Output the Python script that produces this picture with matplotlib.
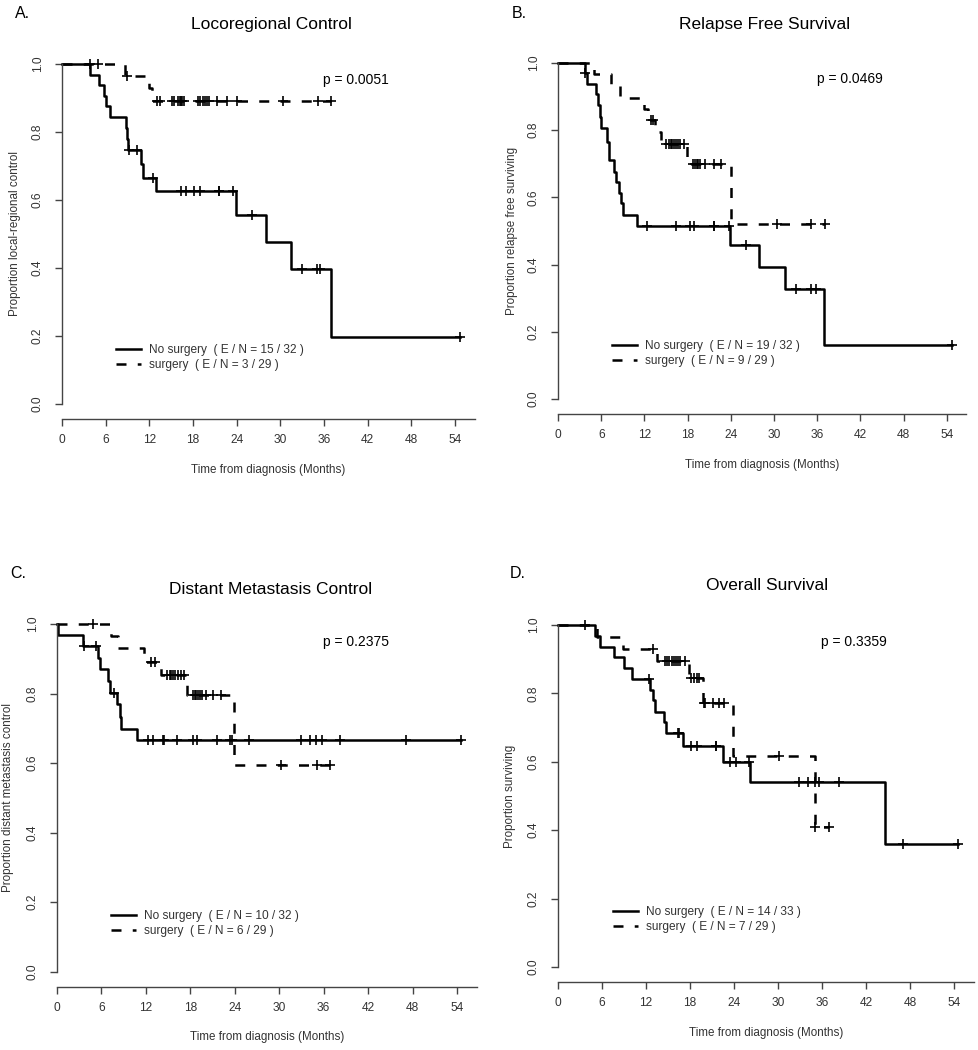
import matplotlib
matplotlib.use('Agg')
import matplotlib.pyplot as plt
import numpy as np

plt.rcParams['font.family'] = ['Liberation Sans', 'DejaVu Sans']

# ---------------- data ----------------
x_ticks = [0, 6, 12, 18, 24, 30, 36, 42, 48, 54]
y_ticks = [0.0, 0.2, 0.4, 0.6, 0.8, 1.0]
y_tick_labels = ['0.0', '0.2', '0.4', '0.6', '0.8', '1.0']

panel_letters = ['A.', 'B.', 'C.', 'D.']
titles = ['Locoregional Control', 'Relapse Free Survival',
          'Distant Metastasis Control', 'Overall Survival']
y_labels = ['Proportion local-regional control', 'Proportion relapse free surviving',
            'Proportion distant metastasis control', 'Proportion surviving']
x_label = 'Time from diagnosis (Months)'
p_values = ['p = 0.0051', 'p = 0.0469', 'p = 0.2375', 'p = 0.3359']
legend_nosurg = ['No surgery  ( E / N = 15 / 32 )', 'No surgery  ( E / N = 19 / 32 )',
                 'No surgery  ( E / N = 10 / 32 )', 'No surgery  ( E / N = 14 / 33 )']
legend_surg = ['surgery  ( E / N = 3 / 29 )', 'surgery  ( E / N = 9 / 29 )',
               'surgery  ( E / N = 6 / 29 )', 'surgery  ( E / N = 7 / 29 )']

# Panel A
A_nosurg_event_t = [3.9, 5.1, 5.8, 6.0, 6.6, 8.75, 8.9, 9.0, 10.85, 11.17, 12.87, 23.9, 28.0, 31.5, 36.9]
A_nosurg_surv = [0.969, 0.938, 0.906, 0.875, 0.844, 0.811, 0.779, 0.746, 0.705, 0.666, 0.626, 0.556, 0.477, 0.396, 0.198]
A_nosurg_cens = [9.2, 10.35, 12.45, 16.4, 17.1, 18.2, 18.9, 21.5, 21.6, 23.5, 26.05, 33.0, 35.0, 35.5, 54.7]
A_surg_event_t = [8.6, 11.9, 12.3]
A_surg_surv = [0.965, 0.93, 0.891]
A_surg_cens = [3.85, 4.9, 8.9, 13.1, 13.4, 15.1, 15.4, 15.9, 16.2, 16.3, 16.5, 16.8, 18.7, 19.0,
               19.3, 19.6, 19.9, 20.2, 21.3, 22.6, 24.0, 30.3, 35.2, 36.9]

# Panel B
B_nosurg_event_t = [3.7, 4.0, 5.28, 5.6, 5.83, 5.97, 6.76, 7.08, 7.78, 8.06, 8.52, 8.75, 9.07, 10.93,
                    23.9, 27.96, 31.5, 36.9]
B_nosurg_surv = [0.969, 0.937, 0.907, 0.875, 0.84, 0.807, 0.766, 0.711, 0.677, 0.647, 0.614, 0.582,
                 0.548, 0.515, 0.458, 0.392, 0.326, 0.161]
B_nosurg_cens = [3.8, 12.4, 16.4, 18.3, 18.9, 21.6, 21.7, 23.7, 26.1, 33.05, 35.1, 35.8, 54.7]
B_surg_event_t = [5.0, 7.3, 8.6, 11.9, 12.5, 13.5, 14.3, 17.9, 24.0]
B_surg_surv = [0.966, 0.931, 0.897, 0.862, 0.831, 0.795, 0.759, 0.698, 0.521]
B_surg_cens = [12.9, 13.2, 15.0, 15.4, 15.7, 15.9, 16.1, 16.4, 16.6, 17.0, 17.5, 18.7, 19.0, 19.3,
               19.5, 19.7, 20.4, 21.6, 22.6, 30.4, 35.1, 37.1]

# Panel C
C_nosurg_event_t = [0.1, 3.55, 5.58, 5.8, 6.93, 7.16, 8.05, 8.5, 8.64, 10.76]
C_nosurg_surv = [0.968, 0.937, 0.903, 0.87, 0.836, 0.802, 0.771, 0.733, 0.699, 0.666]
C_nosurg_cens = [3.6, 5.3, 7.7, 12.24, 13.0, 14.35, 14.5, 16.25, 18.3, 18.86, 21.56, 23.36, 23.6,
                 25.96, 32.94, 34.16, 34.97, 35.73, 38.2, 47.1, 54.5]
C_surg_event_t = [7.3, 8.3, 11.8, 14.1, 17.6, 23.9]
C_surg_surv = [0.966, 0.93, 0.891, 0.853, 0.796, 0.594]
C_surg_cens = [4.9, 12.65, 13.2, 14.8, 15.2, 15.4, 15.7, 15.9, 16.3, 16.7, 17.2, 18.3, 18.6, 18.8,
               19.1, 19.3, 19.6, 20.1, 21.1, 22.1, 30.3, 35.05, 36.9]

# Panel D
D_nosurg_event_t = [5.05, 5.7, 7.6, 9.0, 10.1, 12.5, 12.9, 13.2, 14.5, 14.7, 17.1, 22.45, 26.2, 44.6]
D_nosurg_surv = [0.969, 0.937, 0.907, 0.873, 0.842, 0.81, 0.78, 0.745, 0.715, 0.683, 0.646, 0.60,
                 0.542, 0.359]
D_nosurg_cens = [3.7, 12.4, 16.3, 16.5, 18.2, 18.9, 21.5, 21.6, 23.45, 24.3, 26.0, 32.9, 34.1, 35.0,
                 35.6, 38.3, 47.1, 54.5]
D_surg_event_t = [5.3, 8.9, 13.45, 17.9, 19.8, 23.8, 35.05]
D_surg_surv = [0.966, 0.931, 0.895, 0.844, 0.771, 0.618, 0.41]
D_surg_cens = [13.0, 14.6, 14.9, 15.2, 15.5, 15.8, 16.1, 16.3, 16.7, 17.3, 18.2, 18.5, 18.9, 19.2,
               19.85, 20.05, 21.1, 21.9, 22.6, 30.2, 35.1, 36.9]

curves = [
    (A_nosurg_event_t, A_nosurg_surv, A_nosurg_cens, A_surg_event_t, A_surg_surv, A_surg_cens),
    (B_nosurg_event_t, B_nosurg_surv, B_nosurg_cens, B_surg_event_t, B_surg_surv, B_surg_cens),
    (C_nosurg_event_t, C_nosurg_surv, C_nosurg_cens, C_surg_event_t, C_surg_surv, C_surg_cens),
    (D_nosurg_event_t, D_nosurg_surv, D_nosurg_cens, D_surg_event_t, D_surg_surv, D_surg_cens),
]

# ---------------- layout (pixels) ----------------
W, H = 979, 1050
geom = [
    dict(left=62, ppm=7.28, top=64, bottom=404, off=15, letter=(15, 14), title=(271, 25),
         p=(323, 80), ylab=15, xlab=470, leg=(116, 344)),
    dict(left=558, ppm=7.2, top=63, bottom=399, off=15, letter=(512, 14), title=(765, 25),
         p=(817, 79), ylab=512, xlab=465, leg=(612, 340)),
    dict(left=57, ppm=7.407, top=624, bottom=971.5, off=15.5, letter=(10, 574), title=(271, 590),
         p=(323, 642), ylab=8, xlab=1037, leg=(111, 910)),
    dict(left=558, ppm=7.333, top=625, bottom=967, off=15, letter=(510, 574), title=(767, 585),
         p=(821, 642), ylab=510, xlab=1033, leg=(613, 906)),
]
XMAX = 57.0
AXCOL = '#444444'
TXTCOL = '#333333'

fig = plt.figure(figsize=(W / 100, H / 100), dpi=100)


def step_xy(ev_t, ev_s, cens):
    end = max(max(cens), ev_t[-1])
    x = np.concatenate([[0.0], ev_t, [end]])
    y = np.concatenate([[1.0], ev_s, [ev_s[-1]]])
    return x, y


def level_at(ev_t, ev_s, t):
    ev_t = np.asarray(ev_t)
    lv = np.concatenate([[1.0], ev_s])
    idx = np.searchsorted(ev_t, t, side='right')
    return lv[idx]


for i, g in enumerate(geom):
    width = XMAX * g['ppm']
    ax = fig.add_axes([g['left'] / W, 1 - g['bottom'] / H, width / W, (g['bottom'] - g['top']) / H])
    ax.set_xlim(0, XMAX)
    ax.set_ylim(0, 1)
    ev1, s1, c1, ev2, s2, c2 = curves[i]

    x, y = step_xy(ev1, s1, c1)
    l1, = ax.step(x, y, where='post', color='black', lw=1.8, clip_on=False,
                  label=legend_nosurg[i])
    ax.plot(c1, level_at(ev1, s1, c1), ls='none', marker='+', ms=7, mew=1.2,
            color='black', clip_on=False)

    x, y = step_xy(ev2, s2, c2)
    l2, = ax.step(x, y, where='post', color='black', lw=1.8, clip_on=False,
                  dashes=(4, 4.5), label=legend_surg[i])
    ax.plot(c2, level_at(ev2, s2, c2), ls='none', marker='+', ms=7, mew=1.2,
            color='black', clip_on=False)

    for s in ['top', 'right']:
        ax.spines[s].set_visible(False)
    ax.spines['left'].set_bounds(0, 1)
    ax.spines['bottom'].set_bounds(0, 56.7)
    ax.spines['bottom'].set_position(('outward', g['off'] * 0.72))
    for s in ['left', 'bottom']:
        ax.spines[s].set_color(AXCOL)
        ax.spines[s].set_linewidth(1.0)
    ax.set_xticks(x_ticks)
    ax.set_yticks(y_ticks)
    ax.set_yticklabels(y_tick_labels)
    ax.tick_params(axis='both', colors=AXCOL, labelcolor=TXTCOL, length=5, width=1.0,
                   labelsize=8.6)
    ax.tick_params(axis='x', pad=6)
    ax.tick_params(axis='y', pad=8)
    plt.setp(ax.get_yticklabels(), rotation=90, va='center')

    fig.text(g['letter'][0] / W, 1 - g['letter'][1] / H, panel_letters[i], ha='left', va='center',
             fontsize=11.5, color='black')
    fig.text(g['title'][0] / W, 1 - g['title'][1] / H, titles[i], ha='center', va='center',
             fontsize=12.5, color='black')
    fig.text(g['p'][0] / W, 1 - g['p'][1] / H, p_values[i], ha='left', va='center',
             fontsize=10, color='black')
    fig.text(g['ylab'] / W, 1 - (g['top'] + g['bottom']) / 2 / H, y_labels[i], rotation=90,
             ha='center', va='center', fontsize=8.4, color=TXTCOL)
    fig.text((g['left'] + 56.7 * g['ppm'] / 2) / W, 1 - g['xlab'] / H, x_label, ha='center',
             va='center', fontsize=8.4, color=TXTCOL)

    leg = ax.legend(handles=[l1, l2], loc='upper left',
                    bbox_to_anchor=(g['leg'][0] / W, 1 - g['leg'][1] / H),
                    bbox_transform=fig.transFigure, frameon=False, fontsize=8.6,
                    handlelength=2.1, handletextpad=0.7, labelspacing=0.25,
                    borderpad=0, borderaxespad=0)
    for t in leg.get_texts():
        t.set_color(TXTCOL)

fig.savefig('out.png', dpi=100)
